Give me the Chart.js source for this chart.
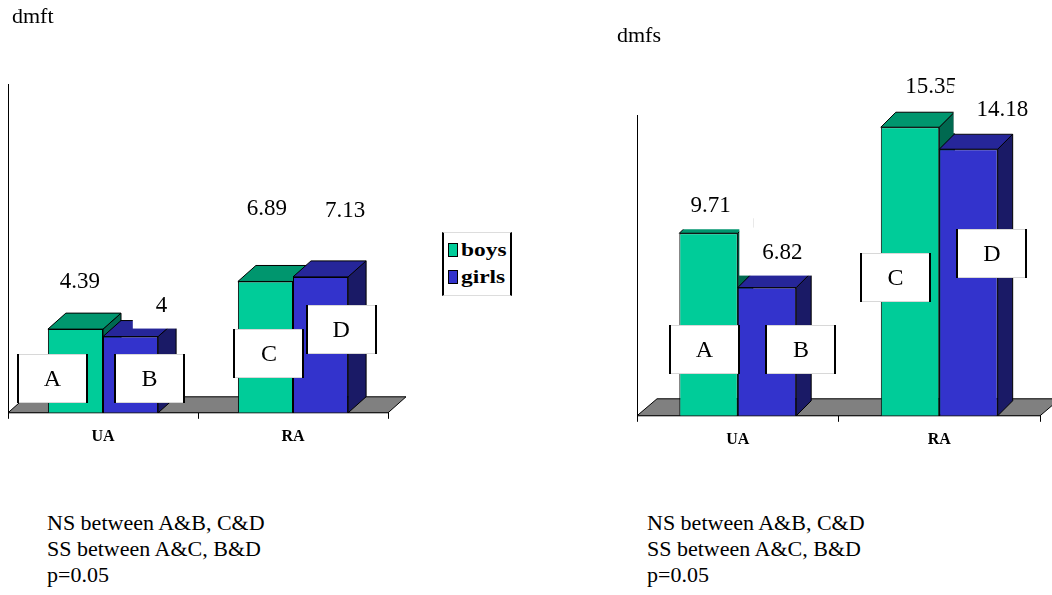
<!DOCTYPE html>
<html>
<head>
<meta charset="utf-8">
<script src="https://cdn.jsdelivr.net/npm/chart.js@4.4.1/dist/chart.umd.min.js"></script>
<style>
  body { margin: 0; width: 1052px; height: 595px; background: #fff; position: relative; overflow: hidden; font-family: 'Liberation Serif', 'Times New Roman', serif; color: #000; }
  canvas { position: absolute; top: 0; }
  .txt { position: absolute; line-height: 1; white-space: nowrap; }
  .title { font-size: 22px; }
  .notes { font-size: 22px; line-height: 26px; }
  #legend { position: absolute; left: 442px; top: 232px; width: 66px; height: 62px; border-left: 2px solid #000; border-right: 2px solid #000; border-top: 1px solid #ddd; border-bottom: 1px solid #ddd; background: #fff; }
  #legend .item { position: absolute; left: 4px; font-weight: bold; font-size: 18px; line-height: 1; white-space: nowrap; }
  #legend .sw { position: absolute; left: 0; top: 1px; width: 8px; height: 12px; border: 1px solid #000; }
  #legend .lbl { position: absolute; left: 13px; top: -1px; display: inline-block; transform: scaleX(1.3); transform-origin: left center; }
</style>
</head>
<body>
<canvas id="dmftChart" width="430" height="470" style="left:0px"></canvas>
<canvas id="dmfsChart" width="452" height="470" style="left:600px"></canvas>

<div class="txt title" style="left:12px; top:5px">dmft</div>
<div class="txt title" style="left:617px; top:24px">dmfs</div>
<div id="legend"></div>
<div class="txt notes" style="left:47px; top:510px">NS between A&amp;B, C&amp;D<br>SS between A&amp;C, B&amp;D<br>p=0.05</div>
<div class="txt notes" style="left:647px; top:510px">NS between A&amp;B, C&amp;D<br>SS between A&amp;C, B&amp;D<br>p=0.05</div>

<script>
const categories = ['UA', 'RA'];
const seriesNames = ['boys', 'girls'];
const dmftBoys = [4.39, 6.89];
const dmftGirls = [4, 7.13];
const dmfsBoys = [9.71, 15.35];
const dmfsGirls = [6.82, 14.18];
const groupLetters = [['A', 'C'], ['B', 'D']];

const frontColors = ['#00CC99', '#3333CC'];
const topColors = ['#00966E', '#262699'];
const sideColors = ['#006950', '#1A1A66'];

Chart.defaults.font.family = "'Liberation Serif', 'Times New Roman', serif";
Chart.defaults.color = '#000';

function poly(ctx, pts) {
  ctx.beginPath();
  ctx.moveTo(pts[0][0], pts[0][1]);
  for (let i = 1; i < pts.length; i++) ctx.lineTo(pts[i][0], pts[i][1]);
  ctx.closePath();
  ctx.fill();
  ctx.stroke();
}

function drawFaces(chart, di, o) {
  const ctx = chart.ctx;
  const d = o.depth;
  ctx.save();
  ctx.lineWidth = 1;
  ctx.strokeStyle = '#000';
  chart.getDatasetMeta(di).data.forEach(bar => {
    const p = bar.getProps(['x', 'y', 'base', 'width'], true);
    const l = p.x - p.width / 2, r = p.x + p.width / 2, t = p.y, b = p.base;
    ctx.fillStyle = sideColors[di];
    poly(ctx, [[r, t], [r + d.x, t - d.y], [r + d.x, b - d.y], [r, b]]);
    ctx.fillStyle = topColors[di];
    poly(ctx, [[l, t], [l + d.x, t - d.y], [r + d.x, t - d.y], [r, t]]);
  });
  ctx.restore();
}

// 3D look: floor + side/top faces, then value labels (white backed) and A-D boxes
const bars3d = {
  id: 'bars3d',
  beforeDatasetsDraw(chart, args, o) {
    const {ctx, chartArea: a} = chart;
    const f = o.floor;
    ctx.save();
    ctx.fillStyle = '#808080';
    ctx.strokeStyle = '#000';
    ctx.lineWidth = 1;
    poly(ctx, [[a.left, a.bottom], [a.right, a.bottom], [a.right + f.x, a.bottom - f.y], [a.left + f.x, a.bottom - f.y]]);
    ctx.restore();
    drawFaces(chart, 0, o);
  },
  afterDatasetsDraw(chart, args, o) {
    drawFaces(chart, 1, o);
    const ctx = chart.ctx;
    ctx.save();
    ctx.textAlign = 'center';
    ctx.textBaseline = 'middle';
    chart.data.datasets.forEach((ds, di) => {
      chart.getDatasetMeta(di).data.forEach((bar, i) => {
        const lo = o.labelOffsets[di][i];
        const lx = bar.x + lo[0], ly = bar.y + lo[1];
        const txt = String(ds.data[i]);
        ctx.font = "23px 'Liberation Serif'";
        const tw = ctx.measureText(txt).width;
        ctx.fillStyle = '#fff';
        ctx.fillRect(lx - tw / 2 - 23, ly - 24, tw + 46, 48);
        ctx.fillStyle = '#000';
        ctx.fillText(txt, lx, ly + 1);

        const bo = o.boxOffsets[di][i];
        const cx = bar.x + bo[0], cy = bar.base + bo[1];
        const w = 71, h = 49;
        const x0 = Math.round(cx - w / 2), y0 = Math.round(cy - h / 2);
        ctx.fillStyle = '#fff';
        ctx.fillRect(x0, y0, w, h);
        ctx.fillStyle = '#d8d8d8';
        ctx.fillRect(x0, y0, w, 1);
        ctx.fillRect(x0, y0 + h - 1, w, 1);
        ctx.fillStyle = '#000';
        ctx.fillRect(x0, y0, 2, h);
        ctx.fillRect(x0 + w - 2, y0, 2, h);
        ctx.font = "24px 'Liberation Serif'";
        ctx.fillText(groupLetters[di][i], cx, cy + 1);
      });
    });
    ctx.restore();
  }
};

function makeChart(id, boys, girls, yMax, padding, pluginOpts) {
  return new Chart(document.getElementById(id).getContext('2d'), {
    type: 'bar',
    data: {
      labels: categories,
      datasets: [{
        label: seriesNames[0],
        data: boys,
        backgroundColor: frontColors[0],
        borderColor: '#000',
        borderWidth: 1,
        categoryPercentage: 0.58,
        barPercentage: 1.0
      }, {
        label: seriesNames[1],
        data: girls,
        backgroundColor: frontColors[1],
        borderColor: '#000',
        borderWidth: 1,
        categoryPercentage: 0.58,
        barPercentage: 1.0
      }]
    },
    options: {
      responsive: false,
      animation: false,
      layout: { padding: padding },
      plugins: {
        legend: { display: false },
        tooltip: { enabled: false },
        bars3d: pluginOpts
      },
      scales: {
        x: {
          grid: { display: true, drawOnChartArea: false, drawTicks: true, tickLength: 6, color: '#000' },
          border: { display: true, color: '#000', width: 1 },
          ticks: { padding: 8, font: { size: 16, weight: 'bold' }, color: '#000' }
        },
        y: {
          min: 0,
          max: yMax,
          grid: { display: false, drawTicks: false },
          border: { display: true, color: '#000', width: 1 },
          ticks: { display: false }
        }
      }
    },
    plugins: [bars3d]
  });
}

makeChart('dmftChart', dmftBoys, dmftGirls, 17.25,
  { left: 8, top: 84, right: 42, bottom: 16 },
  {
    depth: { x: 18, y: 16 },
    floor: { x: 18, y: 16 },
    labelOffsets: [[[4.5, -48], [1.5, -74]], [[31, -32], [24.5, -67]]],
    boxOffsets: [[[-23, -34.5], [3.5, -59.5]], [[19, -34.5], [20.5, -83.5]]]
  });

makeChart('dmfsChart', dmfsBoys, dmfsGirls, 16,
  { left: 37, top: 115, right: 12, bottom: 13 },
  {
    depth: { x: 15, y: 15 },
    floor: { x: 20, y: 17 },
    labelOffsets: [[[2, -28], [21, -41]], [[15.5, -36], [34, -40]]],
    boxOffsets: [[[-4, -66.5], [-14.5, -138.5]], [[34, -66.5], [23.5, -162.5]]]
  });

// legend from the series names
const legend = document.getElementById('legend');
seriesNames.forEach((name, i) => {
  const item = document.createElement('div');
  item.className = 'item';
  item.style.top = (9 + i * 27) + 'px';
  item.innerHTML = '<span class="sw" style="background:' + frontColors[i] + '"></span><span class="lbl">' + name + '</span>';
  legend.appendChild(item);
});
</script>
</body>
</html>
